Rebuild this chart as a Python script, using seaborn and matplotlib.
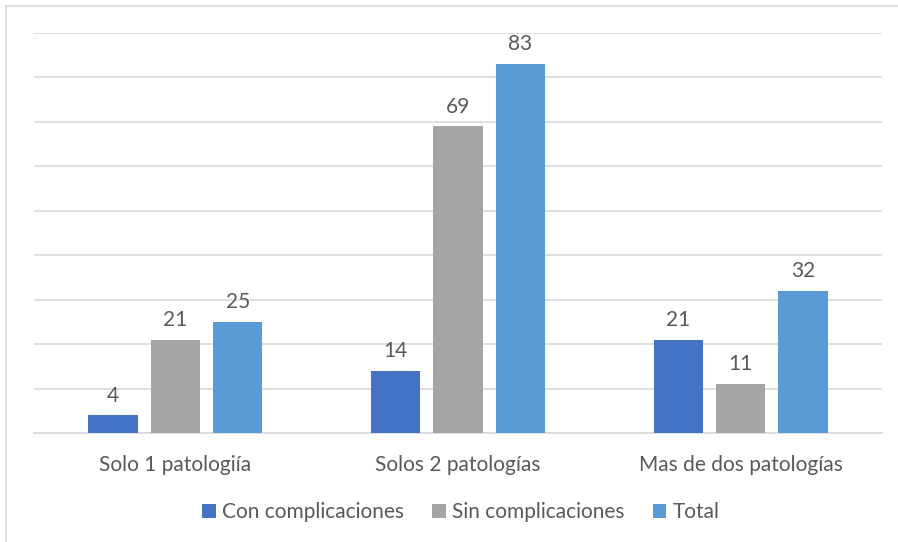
import pandas as pd
import matplotlib.pyplot as plt
import seaborn as sns
from matplotlib.patches import Rectangle

sns.set_theme(style="white")
plt.rcParams["font.family"] = ["Lato", "DejaVu Sans"]

categories = ["Solo 1 patologiía", "Solos 2 patologías", "Mas de dos patologías"]
series = ["Con complicaciones", "Sin complicaciones", "Total"]
con_compl = [4, 14, 21]
sin_compl = [21, 69, 11]
total = [25, 83, 32]

colors = ["#4472C4", "#A5A5A5", "#5B9BD5"]
text_color = "#595959"
grid_color = "#D9D9D9"
fs = 15

df = pd.DataFrame({
    "categoria": categories * 3,
    "serie": [s for s in series for _ in categories],
    "valor": con_compl + sin_compl + total,
})

fig = plt.figure(figsize=(8.98, 5.42), dpi=100)
ax = fig.add_axes([34 / 898, 1 - 433 / 542, 848 / 898, 400 / 542])

sns.barplot(data=df, x="categoria", y="valor", hue="serie", hue_order=series,
            order=categories, palette=colors, width=0.663, gap=0.21,
            saturation=1, ax=ax, zorder=3, edgecolor="none")

for cont in ax.containers:
    ax.bar_label(cont, padding=7, fontsize=fs, color=text_color)

ax.set_ylim(0, 90)
ax.set_xlim(-0.5, 2.5)
ax.set_yticks(range(0, 91, 10))
ax.yaxis.grid(True, color=grid_color, linewidth=1.2, zorder=0)
ax.set_axisbelow(True)
ax.tick_params(axis="y", left=False, labelleft=False)
ax.tick_params(axis="x", bottom=False, labelsize=fs, labelcolor=text_color, pad=10)
for side in ["top", "right", "left"]:
    ax.spines[side].set_visible(False)
ax.spines["bottom"].set_color(grid_color)
ax.spines["bottom"].set_linewidth(1.2)
ax.set_xlabel("")
ax.set_ylabel("")

leg = ax.legend(loc="center", bbox_to_anchor=(461 / 898, 1 - 512 / 542),
                bbox_transform=fig.transFigure, ncol=3, frameon=False,
                fontsize=fs, handlelength=0.65, handleheight=0.65,
                handletextpad=0.3, columnspacing=1.35)
for t in leg.get_texts():
    t.set_color(text_color)

fig.patches.append(Rectangle((6 / 898, -0.1), 1.2, 1 - 6 / 542 + 0.1,
                             transform=fig.transFigure, fill=False,
                             edgecolor=grid_color, linewidth=1.2))

fig.savefig("out.png", dpi=100)
